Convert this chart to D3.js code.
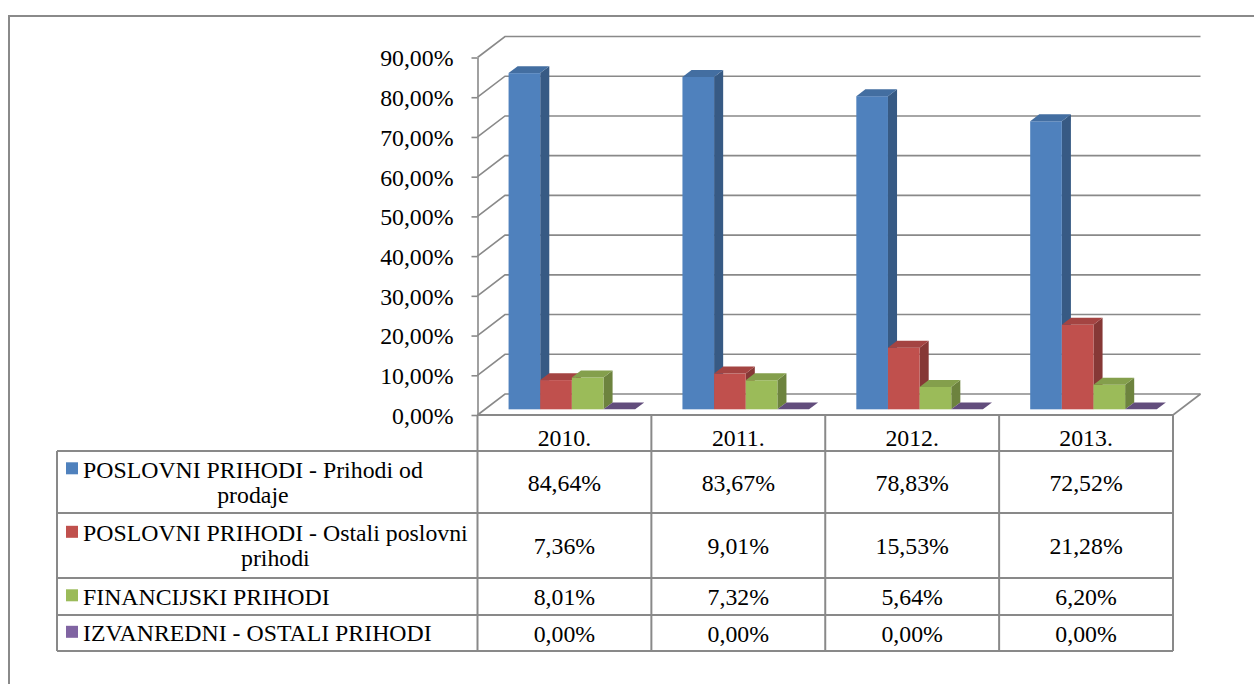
<!DOCTYPE html>
<html>
<head>
<meta charset="utf-8">
<script src="https://cdn.jsdelivr.net/npm/d3@7"></script>
<style>
  html, body { margin: 0; padding: 0; background: #fff; }
  svg { display: block; }
  text { font-family: "Liberation Serif", "Times New Roman", serif; fill: #000; }
</style>
</head>
<body>
<svg id="chart" width="1254" height="684"></svg>
<script>
// ---------------- DATA ----------------
const categories = ["2010.", "2011.", "2012.", "2013."];
const seriesNames = [
  ["POSLOVNI PRIHODI - Prihodi od", "prodaje"],
  ["POSLOVNI PRIHODI - Ostali poslovni", "prihodi"],
  ["FINANCIJSKI PRIHODI"],
  ["IZVANREDNI - OSTALI PRIHODI"]
];
const seriesKeys = ["s1", "s2", "s3", "s4"];
const prihodiOdProdaje = [84.64, 83.67, 78.83, 72.52];
const ostaliPoslovniPrihodi = [7.36, 9.01, 15.53, 21.28];
const financijskiPrihodi = [8.01, 7.32, 5.64, 6.20];
const izvanredniPrihodi = [0.00, 0.00, 0.00, 0.00];
const seriesValues = [prihodiOdProdaje, ostaliPoslovniPrihodi, financijskiPrihodi, izvanredniPrihodi];
const seriesColors = ["#4F81BD", "#C0504D", "#9BBB59", "#8064A2"];
const yTicks = [0, 10, 20, 30, 40, 50, 60, 70, 80, 90];

// ---------------- LAYOUT ----------------
const svg = d3.select("#chart");
const fmt = v => v.toFixed(2).replace(".", ",") + "%";
const FONT = 23.8;
const FF = "Liberation Serif, Times New Roman, serif";
const GRID = "#898989";

const axisX = 477.5, floorY = 415, topY = 57.5, rightX = 1173;
const DX = 27.5, DY = -21;          // depth of the 3D box
const fFront = 0.27, fDepth = 0.33; // bar position/depth in the box

const y = d3.scaleLinear().domain([0, 90]).range([floorY, topY]);
const xCat = d3.scaleBand().domain(categories).range([axisX, rightX]);
const bw = xCat.bandwidth();
const xSer = d3.scaleBand().domain(seriesKeys).range([bw * 0.136, bw * 0.864]);

// outer border
svg.append("rect").attr("x", 9).attr("y", 16).attr("width", 1300).attr("height", 720)
  .attr("fill", "none").attr("stroke", "#8a8a8a").attr("stroke-width", 2);

// back wall gridlines + left wall slanted lines
const grid = svg.append("g").attr("stroke", GRID).attr("stroke-width", 1.6).attr("fill", "none");
yTicks.forEach(t => {
  const yy = y(t);
  grid.append("path").attr("d", `M${axisX},${yy}L${axisX + DX},${yy + DY}L${rightX + DX},${yy + DY}`);
});
// floor right edge
grid.append("path").attr("d", `M${rightX},${floorY}L${rightX + DX},${floorY + DY}`);

// y axis
const axis = d3.axisLeft(y).tickValues(yTicks).tickFormat(fmt).tickSize(6).tickPadding(18).tickSizeOuter(0);
const ag = svg.append("g").attr("transform", `translate(${axisX},0)`).call(axis);
ag.attr("font-family", FF);
ag.select(".domain").attr("stroke", GRID).attr("stroke-width", 1.6);
ag.selectAll(".tick line").attr("stroke", GRID).attr("stroke-width", 1.6);
ag.selectAll(".tick text").attr("font-family", FF)
  .attr("font-size", FONT).attr("fill", "#000").attr("dy", "0.35em");

// bars
const bars = svg.append("g");
const ddx = fDepth * DX, ddy = fDepth * DY;
categories.forEach((c, ci) => {
  seriesKeys.forEach((k, si) => {
    const v = seriesValues[si][ci];
    const col = d3.color(seriesColors[si]);
    const x0 = xCat(c) + xSer(k) + fFront * DX;
    const w = xSer.bandwidth();
    const yb = y(0) + fFront * DY;
    const yt = y(v) + fFront * DY;
    const g = bars.append("g");
    if (yb - yt > 0.5) {
      g.append("path").attr("fill", col.darker(1.0).formatHex())
        .attr("d", `M${x0 + w},${yt}L${x0 + w + ddx},${yt + ddy}L${x0 + w + ddx},${yb + ddy}L${x0 + w},${yb}Z`);
      g.append("rect").attr("x", x0).attr("y", yt).attr("width", w).attr("height", yb - yt)
        .attr("fill", col.formatHex());
      g.append("path").attr("fill", col.darker(0.45).formatHex())
        .attr("d", `M${x0},${yt}L${x0 + w},${yt}L${x0 + w + ddx},${yt + ddy}L${x0 + ddx},${yt + ddy}Z`);
    } else {
      g.append("path").attr("fill", col.darker(0.75).formatHex())
        .attr("d", `M${x0},${yt}L${x0 + w},${yt}L${x0 + w + ddx},${yt + ddy}L${x0 + ddx},${yt + ddy}Z`);
    }
  });
});

// ---------------- DATA TABLE ----------------
const tableLeft = 57;
const rowEdges = [415, 451, 513, 578, 615, 651];
const colEdges = [axisX].concat(categories.map(c => xCat(c) + bw));
const tg = svg.append("g").attr("stroke", GRID).attr("stroke-width", 2).attr("fill", "none");
tg.append("line").attr("x1", axisX).attr("x2", rightX).attr("y1", rowEdges[0]).attr("y2", rowEdges[0]);
rowEdges.slice(1).forEach(ry => {
  tg.append("line").attr("x1", tableLeft).attr("x2", rightX).attr("y1", ry).attr("y2", ry);
});
colEdges.forEach(cx => {
  tg.append("line").attr("x1", cx).attr("x2", cx).attr("y1", rowEdges[0]).attr("y2", rowEdges[5]);
});
tg.append("line").attr("x1", tableLeft).attr("x2", tableLeft).attr("y1", rowEdges[1]).attr("y2", rowEdges[5]);

// header labels
categories.forEach(c => {
  svg.append("text").attr("x", xCat(c) + bw / 2).attr("y", 446)
    .attr("text-anchor", "middle").attr("font-family", FF).attr("font-size", FONT).text(c);
});

// rows
const lineH = 25;
seriesNames.forEach((lines, si) => {
  const mid = (rowEdges[si + 1] + rowEdges[si + 2]) / 2;
  const firstBase = mid + 8.3 - (lines.length - 1) * lineH / 2;
  const tmp = svg.append("text").attr("font-family", FF).attr("font-size", FONT).text(lines[0]);
  const wMax = tmp.node().getComputedTextLength();
  tmp.remove();
  const tx = 83;
  const cx = tx + wMax / 2;
  lines.forEach((ln, li) => {
    svg.append("text").attr("x", cx).attr("y", firstBase + li * lineH)
      .attr("text-anchor", "middle").attr("font-family", FF).attr("font-size", FONT).text(ln);
  });
  svg.append("rect").attr("x", 66).attr("y", firstBase - 15.5).attr("width", 12).attr("height", 12)
    .attr("fill", seriesColors[si]);
  categories.forEach((c, ci) => {
    svg.append("text").attr("x", xCat(c) + bw / 2).attr("y", mid + 8.5)
      .attr("text-anchor", "middle").attr("font-family", FF).attr("font-size", FONT)
      .text(fmt(seriesValues[si][ci]));
  });
});
</script>
</body>
</html>
